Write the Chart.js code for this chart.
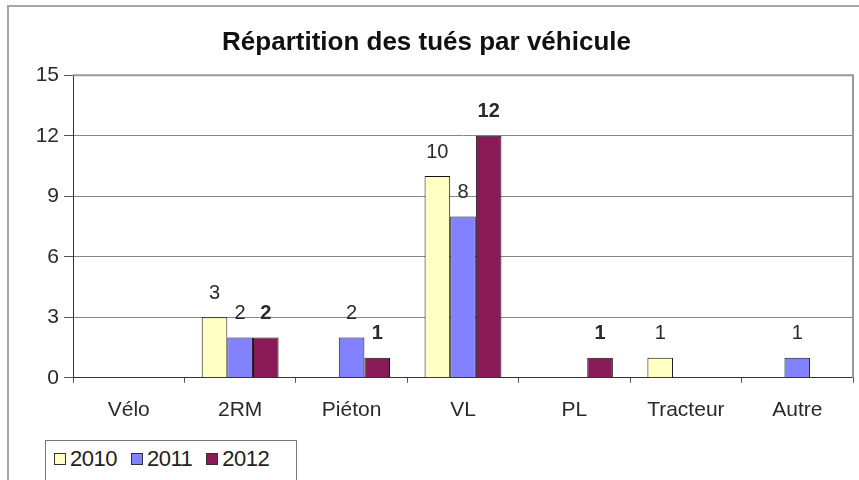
<!DOCTYPE html>
<html lang="fr">
<head>
<meta charset="UTF-8">
<title>Répartition des tués par véhicule</title>
<script src="https://cdn.jsdelivr.net/npm/chart.js"></script>
<style>
    body { margin: 0; background: #fff; font-family: "Liberation Sans", Arial, sans-serif; }
    #wrap { position: relative; width: 859px; height: 480px; overflow: hidden; }
    #frame { position: absolute; left: 7px; top: 5px; width: 900px; height: 520px; border: 2px solid #a8a8a8; }
    #myChart { position: absolute; left: 0; top: 0; }
    #legend {
        position: absolute; left: 45px; top: 440px; width: 252px; height: 60px;
        border: 1px solid #777; background: #fff;
        font-size: 22px; line-height: 26px; color: #222; padding: 5px 0 0 8px; box-sizing: border-box;
        letter-spacing: -0.5px; white-space: nowrap;
    }
    #legend .item { display: inline-block; margin-right: 14px; }
    #legend .sq { display: inline-block; width: 10px; height: 10px; border: 1px solid #333; margin-right: 4px; vertical-align: 1px; }
</style>
</head>
<body>
<div id="wrap">
    <div id="frame"></div>
    <canvas id="myChart" width="859" height="480"></canvas>
    <div id="legend"></div>
</div>
<script>
    const categories = ['Vélo', '2RM', 'Piéton', 'VL', 'PL', 'Tracteur', 'Autre'];
    const years = ['2010', '2011', '2012'];
    const values2010 = [0, 3, 0, 10, 0, 1, 0];
    const values2011 = [0, 2, 2, 8, 0, 0, 1];
    const values2012 = [0, 2, 1, 12, 1, 0, 0];
    const yTicks = [0, 3, 6, 9, 12, 15];

    const colors = ['#ffffc4', '#8282ff', '#891a58'];
    const boldLabel = [false, false, true];
    const FONT = '"Liberation Sans", Arial, sans-serif';

    // etiquettes au-dessus des barres
    const valueLabels = {
        id: 'valueLabels',
        afterDatasetsDraw(chart) {
            const ctx = chart.ctx;
            ctx.save();
            ctx.fillStyle = '#2a2a2a';
            ctx.textAlign = 'center';
            ctx.textBaseline = 'middle';
            chart.data.datasets.forEach((ds, i) => {
                ctx.font = (boldLabel[i] ? 'bold ' : '') + '20px ' + FONT;
                chart.getDatasetMeta(i).data.forEach((bar, j) => {
                    if (!ds.data[j]) return;
                    ctx.fillText(String(ds.data[j]), bar.x, bar.y - 24);
                });
            });
            ctx.restore();
        }
    };

    // cadre gris haut/droite de la zone de tracé
    const plotFrame = {
        id: 'plotFrame',
        beforeDatasetsDraw(chart) {
            const a = chart.chartArea;
            const ctx = chart.ctx;
            ctx.save();
            ctx.strokeStyle = '#999';
            ctx.lineWidth = 2;
            ctx.beginPath();
            ctx.moveTo(a.left, a.top);
            ctx.lineTo(a.right, a.top);
            ctx.lineTo(a.right, a.bottom);
            ctx.stroke();
            ctx.restore();
        }
    };

    const datasets = [values2010, values2011, values2012].map((vals, i) => ({
        label: years[i],
        data: vals,
        backgroundColor: colors[i],
        borderColor: '#111',
        borderWidth: 1,
        barPercentage: 1.0,
        categoryPercentage: 0.69
    }));

    const ctx = document.getElementById('myChart').getContext('2d');
    new Chart(ctx, {
        type: 'bar',
        data: { labels: categories, datasets: datasets },
        options: {
            responsive: false,
            animation: false,
            layout: { padding: { left: 0, right: 6, top: 27, bottom: 42 } },
            scales: {
                x: {
                    grid: { drawOnChartArea: false, drawTicks: true, tickLength: 5, color: '#555', offset: true },
                    border: { color: '#333', width: 1 },
                    ticks: { color: '#2a2a2a', padding: 15, font: { size: 21, family: FONT } }
                },
                y: {
                    min: 0,
                    max: 15,
                    afterBuildTicks: axis => { axis.ticks = yTicks.map(v => ({ value: v })); },
                    afterFit: axis => { axis.width = 73; },
                    grid: { color: '#888', tickLength: 9, tickColor: '#555' },
                    border: { color: '#333', width: 1 },
                    ticks: { color: '#2a2a2a', padding: 5, font: { size: 21, family: FONT } }
                }
            },
            plugins: {
                legend: { display: false },
                tooltip: { enabled: false },
                title: {
                    display: true,
                    text: 'Répartition des tués par véhicule',
                    color: '#111',
                    padding: { top: 0, bottom: 17 },
                    font: { size: 26, weight: 'bold', family: FONT }
                }
            }
        },
        plugins: [plotFrame, valueLabels]
    });

    // légende HTML à partir des séries
    const legend = document.getElementById('legend');
    years.forEach((y, i) => {
        const item = document.createElement('span');
        item.className = 'item';
        item.innerHTML = '<span class="sq" style="background:' + colors[i] + '"></span>' + y;
        legend.appendChild(item);
    });
</script>
</body>
</html>
